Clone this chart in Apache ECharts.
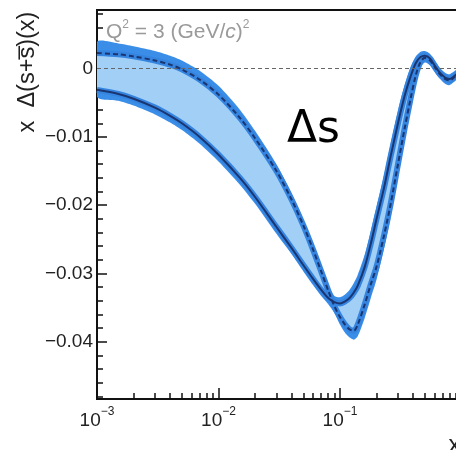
<!DOCTYPE html>
<html><head><meta charset="utf-8">
<script src="https://cdn.jsdelivr.net/npm/echarts@6/dist/echarts.min.js"></script>
<style>html,body{margin:0;padding:0;background:#fff}#c{width:456px;height:450px}</style>
</head><body><div id="c"></div>
<script>
const xs = [0.001, 0.0015, 0.002, 0.003, 0.004, 0.005, 0.007, 0.01, 0.015, 0.02, 0.03, 0.04, 0.05, 0.06, 0.07, 0.08, 0.09, 0.1, 0.11, 0.12, 0.13, 0.14, 0.16, 0.18, 0.2, 0.23, 0.26, 0.3, 0.34, 0.38, 0.42, 0.46, 0.5, 0.55, 0.6, 0.65, 0.7, 0.75, 0.8, 0.9, 1.0];
const dashedCurve = [0.0023, 0.0021, 0.0018, 0.0012, 0.0006, -0.0001, -0.0016, -0.0038, -0.0072, -0.0102, -0.0150, -0.0192, -0.0230, -0.0265, -0.0297, -0.0325, -0.0348, -0.0364, -0.0375, -0.0382, -0.0384, -0.0375, -0.0345, -0.0315, -0.0290, -0.0245, -0.0200, -0.0140, -0.0088, -0.0045, -0.0010, 0.0010, 0.0016, 0.0012, 0.0003, -0.0006, -0.0012, -0.0016, -0.0017, -0.0010, -0.0002];
const solidCurve = [-0.0031, -0.0037, -0.0044, -0.0057, -0.0069, -0.0080, -0.0100, -0.0126, -0.0160, -0.0188, -0.0232, -0.0263, -0.0288, -0.0308, -0.0324, -0.0336, -0.0342, -0.0344, -0.0341, -0.0336, -0.0328, -0.0318, -0.0290, -0.0255, -0.0220, -0.0175, -0.0130, -0.0080, -0.0040, -0.0012, 0.0008, 0.0017, 0.0019, 0.0015, 0.0005, -0.0004, -0.0010, -0.0014, -0.0015, -0.0009, -0.0002];
const bandUpper = [0.0039, 0.0037, 0.0033, 0.0026, 0.0019, 0.0012, -0.0003, -0.0025, -0.0060, -0.0091, -0.0140, -0.0183, -0.0222, -0.0257, -0.0289, -0.0317, -0.0333, -0.0335, -0.0331, -0.0324, -0.0314, -0.0302, -0.0272, -0.0237, -0.0202, -0.0157, -0.0112, -0.0062, -0.0024, 0.0002, 0.0018, 0.0025, 0.0026, 0.0022, 0.0012, 0.0003, -0.0003, -0.0007, -0.0008, -0.0002, 0.0005];
const bandLower = [-0.0041, -0.0047, -0.0054, -0.0067, -0.0079, -0.0090, -0.0110, -0.0136, -0.0170, -0.0198, -0.0242, -0.0272, -0.0297, -0.0317, -0.0333, -0.0345, -0.0358, -0.0375, -0.0387, -0.0394, -0.0397, -0.0392, -0.0365, -0.0335, -0.0309, -0.0264, -0.0219, -0.0158, -0.0105, -0.0060, -0.0022, 0.0002, 0.0009, 0.0005, -0.0004, -0.0013, -0.0019, -0.0023, -0.0024, -0.0017, -0.0009];
const yMajorTicks = [0, -0.01, -0.02, -0.03, -0.04];
const yMinorTicks = [0.008, 0.006, 0.004, 0.002, -0.002, -0.004, -0.006, -0.008, -0.012, -0.014, -0.016, -0.018, -0.022, -0.024, -0.026, -0.028, -0.032, -0.034, -0.036, -0.038, -0.042, -0.044, -0.046, -0.048];
const xMajorTicks = [0.001, 0.01, 0.1, 1];
const xLabelTicks = [0.001, 0.01, 0.1];
const xMinorTicks = [0.002, 0.003, 0.004, 0.005, 0.006, 0.007, 0.008, 0.009, 0.02, 0.03, 0.04, 0.05, 0.06, 0.07, 0.08, 0.09, 0.2, 0.3, 0.4, 0.5, 0.6, 0.7, 0.8, 0.9];

const pts = arr => xs.map((x, i) => [x, arr[i]]);
const FONT = 'Liberation Sans, Arial, sans-serif';
const common = {type: 'line', symbol: 'none', smooth: 0.3, silent: true, xAxisIndex: 0, yAxisIndex: 0};

function band(name, upper, lower, color, z) {
  return {
    type: 'custom', name, silent: true, z, xAxisIndex: 0, yAxisIndex: 0, clip: true,
    data: xs.map((x, i) => [x, upper[i], lower[i]]),
    encode: {x: 0, y: [1, 2]},
    renderItem: (params, api) => {
      if (params.dataIndex !== 0) return null;
      const p = [];
      for (let i = 0; i < xs.length; i++) p.push(api.coord([xs[i], upper[i]]));
      for (let i = xs.length - 1; i >= 0; i--) p.push(api.coord([xs[i], lower[i]]));
      return {type: 'polygon', shape: {points: p, smooth: 0.25}, style: {fill: color}};
    }
  };
}

// tick-only axes spanning the same decades (log10 of x), so tick marks land at log positions
function tickAxis(values, len) {
  return {
    type: 'value', min: -3, max: 0, position: 'bottom',
    axisLine: {show: false, onZero: false},
    axisTick: {show: true, inside: true, length: len, customValues: values.map(Math.log10), lineStyle: {color: '#111', width: 1.5}},
    axisLabel: {show: false}, splitLine: {show: false}
  };
}

const chart = echarts.init(document.getElementById('c'));
chart.setOption({
  animation: false,
  grid: {left: 97, top: 10, right: -5.5, bottom: 51, outerBoundsMode: 'none', containLabel: false,
    show: true, borderColor: '#111', borderWidth: 2, backgroundColor: 'transparent'},
  xAxis: [{
    type: 'log', logBase: 10, min: 0.001, max: 1,
    axisLine: {show: true, onZero: false, lineStyle: {color: '#111', width: 2}},
    axisTick: {show: false},
    axisLabel: {
      customValues: xLabelTicks, margin: 7,
      formatter: v => '{b|10}{s|' + String(Math.round(Math.log10(v))).replace('-', '−') + '}',
      rich: {
        b: {fontSize: 19, fontFamily: FONT, color: '#222', verticalAlign: 'bottom', lineHeight: 24},
        s: {fontSize: 12, fontFamily: FONT, color: '#222', verticalAlign: 'top', lineHeight: 24}
      }
    },
    splitLine: {show: false},
    name: 'x', nameLocation: 'end', nameGap: -13,
    nameTextStyle: {fontSize: 24, fontFamily: FONT, color: '#222', verticalAlign: 'top', padding: [34, 0, 0, 0]}
  }, tickAxis(xMinorTicks, 6), tickAxis(xMajorTicks, 11)],
  yAxis: [{
    type: 'value', min: -0.0484, max: 0.0086,
    axisLine: {show: true, onZero: false, lineStyle: {color: '#111', width: 2}},
    axisTick: {show: true, inside: true, length: 10, customValues: yMajorTicks, lineStyle: {color: '#111', width: 1.5}},
    axisLabel: {customValues: yMajorTicks, margin: 4, fontSize: 19, fontFamily: FONT, color: '#222',
      formatter: v => v === 0 ? '0' : '−' + Math.abs(v).toFixed(2)},
    splitLine: {show: false}
  }, {
    type: 'value', min: -0.0484, max: 0.0086, position: 'left',
    axisLine: {show: false, onZero: false},
    axisTick: {show: true, inside: true, length: 6, customValues: yMinorTicks, lineStyle: {color: '#111', width: 1.5}},
    axisLabel: {show: false}, splitLine: {show: false}
  }],
  graphic: [
    {type: 'text', x: 28, y: 72, rotation: Math.PI / 2,
      style: {text: 'x  Δ(s+s̅)(x)', fontSize: 23.5, fontFamily: FONT, fill: '#222', align: 'center', verticalAlign: 'middle', textAlign: 'center', textVerticalAlign: 'middle'}},
    {type: 'text', x: 106, y: 19, z: 10,
      style: {text: '{n|Q}{s|2}{n| = 3 (GeV/}{i|c}{n|)}{s|2}', fill: '#9a9a9a',
        rich: {
          n: {fontSize: 21, fontFamily: FONT, fill: '#9a9a9a', verticalAlign: 'bottom', lineHeight: 24},
          i: {fontSize: 21, fontFamily: FONT, fontStyle: 'italic', fill: '#9a9a9a', verticalAlign: 'bottom', lineHeight: 24},
          s: {fontSize: 12, fontFamily: FONT, fill: '#9a9a9a', verticalAlign: 'top', lineHeight: 24}
        }}},
    {type: 'text', x: 287, y: 109, z: 10,
      style: {text: 'Δs', fontSize: 44, fontFamily: 'DejaVu Sans, sans-serif', fill: '#000', verticalAlign: 'top', textVerticalAlign: 'top'}}
  ],
  series: [
    band('band', bandUpper, bandLower, '#3b8ee8', 1),
    band('inner', dashedCurve, solidCurve, '#a2cff6', 2),
    Object.assign({}, common, {name: 'solidHalo', data: pts(solidCurve), lineStyle: {color: '#3585e0', width: 6}, z: 3}),
    Object.assign({}, common, {name: 'dashedHalo', data: pts(dashedCurve), lineStyle: {color: '#3585e0', width: 6}, z: 3}),
    Object.assign({}, common, {name: 'solid', data: pts(solidCurve), lineStyle: {color: '#1a3570', width: 2}, z: 4}),
    Object.assign({}, common, {name: 'dashed', data: pts(dashedCurve), lineStyle: {color: '#1a3570', width: 2, type: [5, 3]}, z: 5,
      markLine: {silent: true, symbol: 'none', label: {show: false}, lineStyle: {color: '#666', width: 1, type: [4, 3]}, data: [{yAxis: 0}]}})
  ]
});
</script></body></html>
